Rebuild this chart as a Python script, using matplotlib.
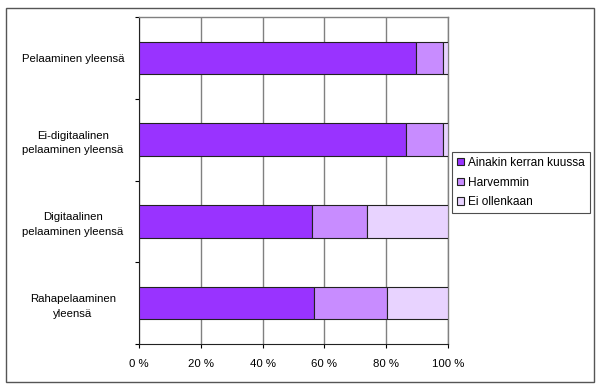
import numpy as np
import matplotlib.pyplot as plt
from matplotlib.patches import Rectangle

plt.rcParams['font.family'] = ['Liberation Sans', 'DejaVu Sans']

# data (percent), top to bottom
categories = ['Pelaaminen yleensä',
              'Ei-digitaalinen\npelaaminen yleensä',
              'Digitaalinen\npelaaminen yleensä',
              'Rahapelaaminen\nyleensä']
ainakin = [89.5, 86.5, 56.0, 56.5]
harvemmin = [9.0, 11.8, 17.8, 23.8]
ei_ollenkaan = [1.5, 1.7, 26.2, 19.7]
series_names = ['Ainakin kerran kuussa', 'Harvemmin', 'Ei ollenkaan']
colors = ['#9933FF', '#C88CFF', '#E8D3FF']
xticks = [0, 20, 40, 60, 80, 100]

fig = plt.figure(figsize=(6, 3.89), dpi=100)
ax = fig.add_axes([139 / 600, 45 / 389, 309 / 600, 327 / 389])

y = np.arange(len(categories))
left = np.zeros(len(categories))
for vals, name, col in zip([ainakin, harvemmin, ei_ollenkaan], series_names, colors):
    ax.barh(y, vals, left=left, height=0.4, color=col, edgecolor='#222222',
            linewidth=0.8, label=name, zorder=3)
    left += np.array(vals)

ax.set_xlim(0, 100)
ax.set_ylim(len(categories) - 0.5, -0.5)
ax.set_xticks(xticks)
ax.set_xticklabels([f'{v} %' for v in xticks], fontsize=8.2)
ax.set_yticks(y)
ax.set_yticklabels(categories, fontsize=8.2, multialignment='center', ha='center',
                   linespacing=1.55)
ax.tick_params(axis='y', length=0, pad=47.5)
ax.tick_params(axis='x', length=3, direction='out', width=0.8, pad=8)
ax.set_yticks(np.arange(len(categories) + 1) - 0.5, minor=True)
ax.tick_params(axis='y', which='minor', length=3, width=0.8)

ax.grid(axis='x', color='#808080', linewidth=1, zorder=0)
for s in ['top', 'right']:
    ax.spines[s].set_color('#808080')
    ax.spines[s].set_linewidth(1)
for s in ['left', 'bottom']:
    ax.spines[s].set_color('#222222')
    ax.spines[s].set_linewidth(0.8)

leg = ax.legend(loc='upper left', bbox_to_anchor=(452 / 600, 237 / 389),
                bbox_transform=fig.transFigure, fontsize=8.6, frameon=True,
                fancybox=False, edgecolor='#222222', handlelength=0.6,
                handleheight=0.6, handletextpad=0.35, borderpad=0.4,
                labelspacing=0.65, borderaxespad=0)
leg.get_frame().set_linewidth(0.8)

# outer chart border
fig.patches.append(Rectangle((6 / 600, 7 / 389), 588 / 600, 374 / 389,
                             transform=fig.transFigure, fill=False,
                             edgecolor='#555555', linewidth=1))

fig.savefig('out.png', dpi=100)
